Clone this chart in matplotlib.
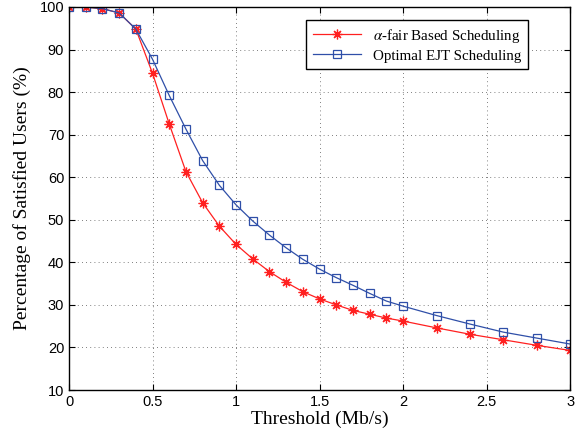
import matplotlib
matplotlib.use("Agg")
import matplotlib.pyplot as plt

plt.rcParams["font.family"] = ["Liberation Serif", "DejaVu Serif"]
plt.rcParams["mathtext.fontset"] = "stix"

# threshold values (Mb/s)
threshold = [0, 0.1, 0.2, 0.3, 0.4, 0.5, 0.6, 0.7, 0.8, 0.9, 1.0,
             1.1, 1.2, 1.3, 1.4, 1.5, 1.6, 1.7, 1.8, 1.9, 2.0,
             2.2, 2.4, 2.6, 2.8, 3.0]

# percentage of satisfied users
alpha_fair = [100, 100, 99.6, 98.6, 94.8, 84.4, 72.5, 61.3, 54.0, 48.5, 44.2,
              40.8, 37.8, 35.3, 33.1, 31.4, 30.0, 28.7, 27.8, 26.9, 26.2,
              24.6, 23.1, 21.8, 20.5, 19.3]
optimal_ejt = [100, 100, 99.6, 98.6, 94.8, 87.7, 79.2, 71.3, 63.9, 58.1, 53.5,
               49.7, 46.4, 43.4, 40.7, 38.4, 36.4, 34.6, 32.7, 30.9, 29.7,
               27.5, 25.5, 23.6, 22.2, 20.8]

x_ticks = [0, 0.5, 1, 1.5, 2, 2.5, 3]
y_ticks = [10, 20, 30, 40, 50, 60, 70, 80, 90, 100]

fig = plt.figure(figsize=(5.82, 4.36), dpi=100)
ax = fig.add_axes([0.1186, 0.1055, 0.861, 0.8785])

ax.plot(threshold, alpha_fair, color="#ff2020", linewidth=0.9,
        marker=(8, 2, 0), markersize=7, markeredgewidth=0.9,
        label=r"$\alpha$-fair Based Scheduling")
ax.plot(threshold, optimal_ejt, color="#2f4fa8", linewidth=0.9,
        marker="s", markersize=6, markerfacecolor="none",
        markeredgewidth=0.9, label="Optimal EJT Scheduling")

ax.set_xlim(0, 3)
ax.set_ylim(10, 100)
ax.set_xticks(x_ticks)
ax.set_xticklabels(["0", "0.5", "1", "1.5", "2", "2.5", "3"])
ax.set_yticks(y_ticks)

# sans-serif tick numbers
for lbl in ax.get_xticklabels() + ax.get_yticklabels():
    lbl.set_family(["Liberation Sans", "DejaVu Sans"])
ax.tick_params(direction="in", top=True, right=True, labelsize=10.5, length=4)
ax.grid(True, linestyle=(0, (1, 4)), color="#555555", linewidth=0.6)

ax.set_xlabel("Threshold (Mb/s)", fontsize=14, labelpad=1)
ax.set_ylabel("Percentage of Satisfied Users (%)", fontsize=14, labelpad=6)

for spine in ax.spines.values():
    spine.set_linewidth(1.0)

leg = ax.legend(loc="upper right", bbox_to_anchor=(0.916, 0.966),
                borderaxespad=0, fontsize=10.8, fancybox=False, framealpha=1,
                edgecolor="black", borderpad=0.45, handlelength=3.2,
                labelspacing=0.3)
leg.get_frame().set_linewidth(1.0)

fig.savefig("out.png", dpi=100)
plt.close(fig)
